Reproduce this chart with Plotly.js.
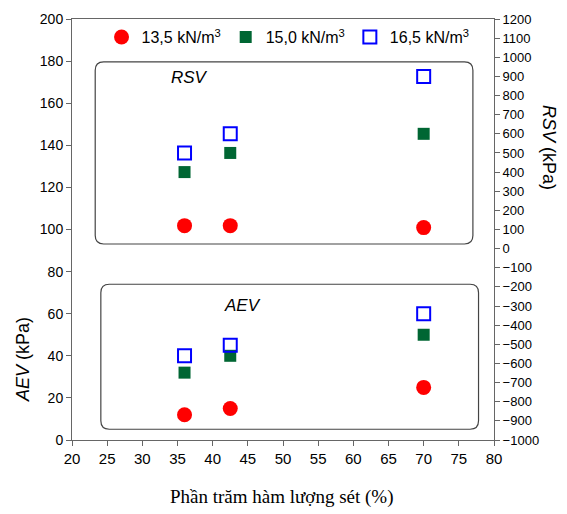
<!DOCTYPE html>
<html>
<head>
<meta charset="utf-8">
<script src="https://cdn.plot.ly/plotly-3.0.1.min.js"></script>
<style>html,body{margin:0;padding:0;background:#fff;}#chart{width:567px;height:514px;}</style>
</head>
<body>
<div id="chart"></div>
<script>
// Clay content (%)
const clayContent = [36, 42.5, 70];
// AEV (kPa) – left axis
const aev_135 = [12, 15, 25];
const aev_150 = [32, 40, 50];
const aev_165 = [40, 45, 60];
// RSV (kPa) – right axis
const rsv_135 = [120, 120, 110];
const rsv_150 = [400, 500, 600];
const rsv_165 = [500, 600, 900];
const seriesNames = ['13,5 kN/m<sup>3</sup>', '15,0 kN/m<sup>3</sup>', '16,5 kN/m<sup>3</sup>'];

const red = '#FF0000', green = '#006633', blue = '#0000FF';
const mk = [
  {symbol: 'circle', size: 15, color: red},
  {symbol: 'square', size: 12, color: green},
  {symbol: 'square-open', size: 13, color: blue, line: {color: blue, width: 2}}
];

const traces = [];
const aevSets = [aev_135, aev_150, aev_165];
const rsvSets = [rsv_135, rsv_150, rsv_165];
for (let i = 0; i < 3; i++) {
  traces.push({x: clayContent, y: aevSets[i], type: 'scatter', mode: 'markers', name: seriesNames[i],
    marker: mk[i], legendgroup: 'g' + i, showlegend: true, yaxis: 'y', cliponaxis: false});
}
for (let i = 0; i < 3; i++) {
  traces.push({x: clayContent, y: rsvSets[i], type: 'scatter', mode: 'markers', name: seriesNames[i],
    marker: mk[i], legendgroup: 'g' + i, showlegend: false, yaxis: 'y2', cliponaxis: false});
}

function roundRect(x0, x1, y0, y1, rx, ry) {
  return `M ${x0 + rx},${y1} L ${x1 - rx},${y1} Q ${x1},${y1} ${x1},${y1 - ry} ` +
         `L ${x1},${y0 + ry} Q ${x1},${y0} ${x1 - rx},${y0} ` +
         `L ${x0 + rx},${y0} Q ${x0},${y0} ${x0},${y0 + ry} ` +
         `L ${x0},${y1 - ry} Q ${x0},${y1} ${x0 + rx},${y1} Z`;
}

const axColor = '#666666';
const tickFont = {family: 'Liberation Sans, Arial, sans-serif', size: 15, color: '#000'};
const px = v => (v - 72) / 422;
const py = v => (440 - v) / 421;

const layout = {
  width: 567, height: 514,
  margin: {l: 72, r: 73, t: 19, b: 74},
  paper_bgcolor: '#fff', plot_bgcolor: '#fff',
  font: {family: 'Liberation Sans, Arial, sans-serif', color: '#000'},
  showlegend: true,
  legend: {orientation: 'h', x: 0.07, y: 0.957, xanchor: 'left', yanchor: 'middle',
    font: {size: 16, family: 'Liberation Sans, Arial, sans-serif'}, bgcolor: 'rgba(0,0,0,0)', itemwidth: 30},
  xaxis: {range: [20, 80], dtick: 5, tick0: 20, showgrid: false, zeroline: false,
    showline: true, linecolor: axColor, linewidth: 1, mirror: true,
    ticks: 'outside', ticklen: 5, tickcolor: axColor, tickfont: tickFont},
  yaxis: {range: [0, 200], dtick: 20, showgrid: false, zeroline: false,
    showline: true, linecolor: axColor, linewidth: 1,
    ticks: 'outside', ticklen: 5, tickcolor: axColor, tickfont: {...tickFont, size: 14}},
  yaxis2: {range: [-1000, 1200], dtick: 100, overlaying: 'y', side: 'right', showgrid: false, zeroline: false,
    showline: true, linecolor: axColor, linewidth: 1,
    ticks: 'outside', ticklen: 5, tickcolor: axColor, tickfont: {...tickFont, size: 13}},
  shapes: [
    {type: 'path', xref: 'x', yref: 'y', path: roundRect(23.3, 77.0, 93.1, 179.6, 1.2, 4.0),
      line: {color: '#444', width: 1.2}, fillcolor: 'rgba(0,0,0,0)', layer: 'below'},
    {type: 'path', xref: 'x', yref: 'y', path: roundRect(24.1, 77.8, 5.1, 74.0, 1.2, 4.0),
      line: {color: '#444', width: 1.2}, fillcolor: 'rgba(0,0,0,0)', layer: 'below'}
  ],
  annotations: [
    {text: '<i>RSV</i>', xref: 'paper', yref: 'paper', x: px(189), y: py(77),
      xanchor: 'center', yanchor: 'middle', showarrow: false, font: {size: 17}},
    {text: '<i>AEV</i>', xref: 'paper', yref: 'paper', x: px(242), y: py(305),
      xanchor: 'center', yanchor: 'middle', showarrow: false, font: {size: 17}},
    {text: '<i>AEV</i> (kPa)', xref: 'paper', yref: 'paper', x: px(23), y: py(360),
      xanchor: 'center', yanchor: 'middle', textangle: -90, showarrow: false, font: {size: 18}},
    {text: '<i>RSV</i> (kPa)', xref: 'paper', yref: 'paper', x: px(549), y: py(147),
      xanchor: 'center', yanchor: 'middle', textangle: 90, showarrow: false, font: {size: 18}},
    {text: 'Phần trăm hàm lượng sét (%)', xref: 'paper', yref: 'paper', x: px(282), y: py(497),
      xanchor: 'center', yanchor: 'middle', showarrow: false,
      font: {size: 19, family: 'Liberation Serif, Times New Roman, serif'}}
  ]
};

Plotly.newPlot('chart', traces, layout, {displayModeBar: false, staticPlot: true});
</script>
</body>
</html>
